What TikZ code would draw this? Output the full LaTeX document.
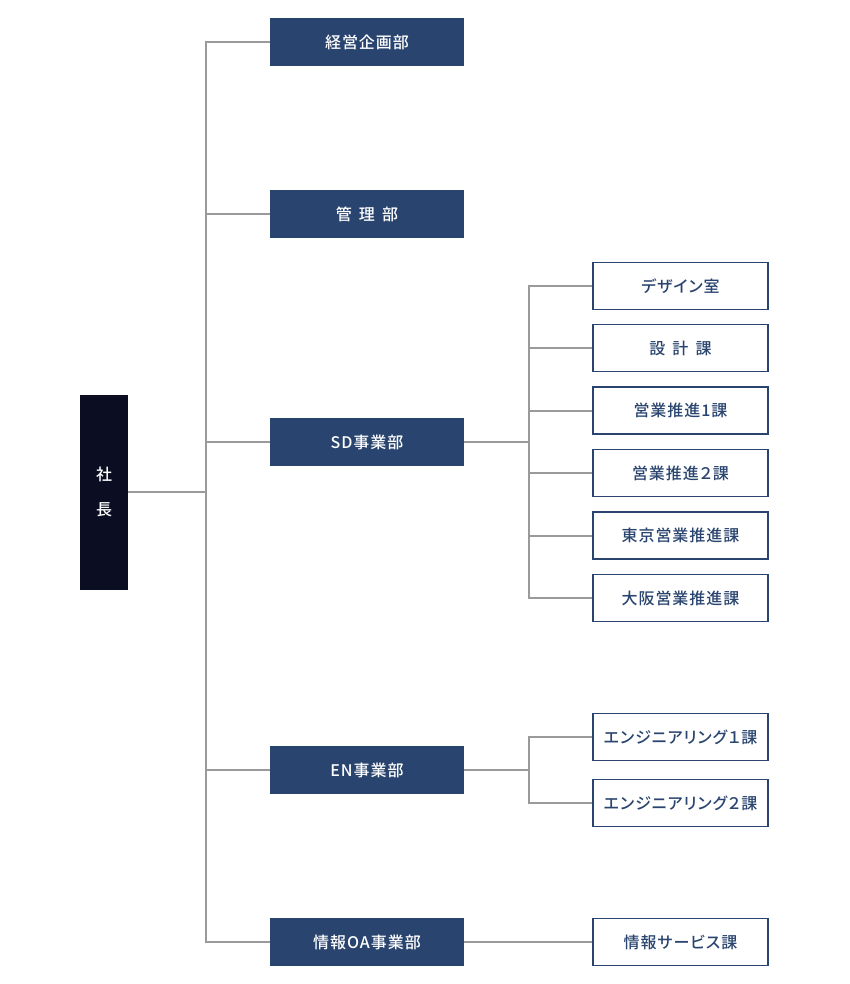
\documentclass[tikz,border=0pt]{standalone}
\usepackage{fontspec}
\setmainfont{Noto Sans CJK JP}[BoldFont={Noto Sans CJK JP Medium}, LetterSpace=6, RawFeature=+palt]
\usetikzlibrary{positioning}

\definecolor{navy}{HTML}{29446E}
\definecolor{ink}{HTML}{0B0E22}
\definecolor{wire}{HTML}{9A9A9A}

\tikzset{
  bu/.style={fill=navy, text=white, minimum width=194pt, minimum height=48pt, inner sep=0pt, font=\bfseries\fontsize{16}{16}\selectfont},
  ka/.style={draw=navy, line width=1.5pt, fill=white, text=navy, minimum width=175pt, minimum height=47pt, inner sep=0pt, font=\bfseries\fontsize{16}{16}\selectfont},
  link/.style={draw=wire, line width=2pt}
}

\begin{document}
\begin{tikzpicture}[x=1pt,y=-1pt]
\useasboundingbox (0,0) rectangle (850,984);
\node [fill=ink, text=white, minimum width=48pt, minimum height=195pt, inner sep=0pt, align=center, font=\bfseries\fontsize{16}{35}\selectfont] (shacho) at (104,492) {社\\長};
\coordinate (trunk) at (206,492);
\node [bu] (keiei) at (367,42) {経営企画部};
\node [bu] (kanri) at (367,214) {管\hspace{0.45em}理\hspace{0.45em}部};
\node [bu] (sd) at (367,442) {SD事業部};
\node [bu] (en) at (367,770) {EN事業部};
\node [bu] (joho) at (367,942) {情報OA事業部};
\coordinate (sdj) at (529,442);
\node [ka] (design) at (680.5,286) {デザイン室};
\node [ka] (sekkei) at (680.5,348) {設\hspace{0.45em}計\hspace{0.45em}課};
\node [ka] (eigyo1) at (680.5,410.5) {営業推進1課};
\node [ka] (eigyo2) at (680.5,473) {営業推進２課};
\node [ka] (tokyo) at (680.5,535.5) {東京営業推進課};
\node [ka] (osaka) at (680.5,598) {大阪営業推進課};
\coordinate (enj) at (529,770);
\node [ka] (eng1) at (680.5,737) {エンジニアリング１課};
\node [ka] (eng2) at (680.5,803) {エンジニアリング２課};
\node [ka] (service) at (680.5,942) {情報サービス課};
\draw [link] (shacho.east) -- (trunk);
\foreach \b in {keiei,kanri,sd,en,joho}
  \draw [link] (\b.west) -| (trunk);
\draw [link] (sd.east) -- (sdj);
\foreach \k in {design,sekkei,eigyo1,eigyo2,tokyo,osaka}
  \draw [link] (\k.west) -| (sdj);
\draw [link] (en.east) -- (enj);
\foreach \k in {eng1,eng2}
  \draw [link] (\k.west) -| (enj);
\draw [link] (joho.east) -- (service.west);
\end{tikzpicture}
\end{document}
